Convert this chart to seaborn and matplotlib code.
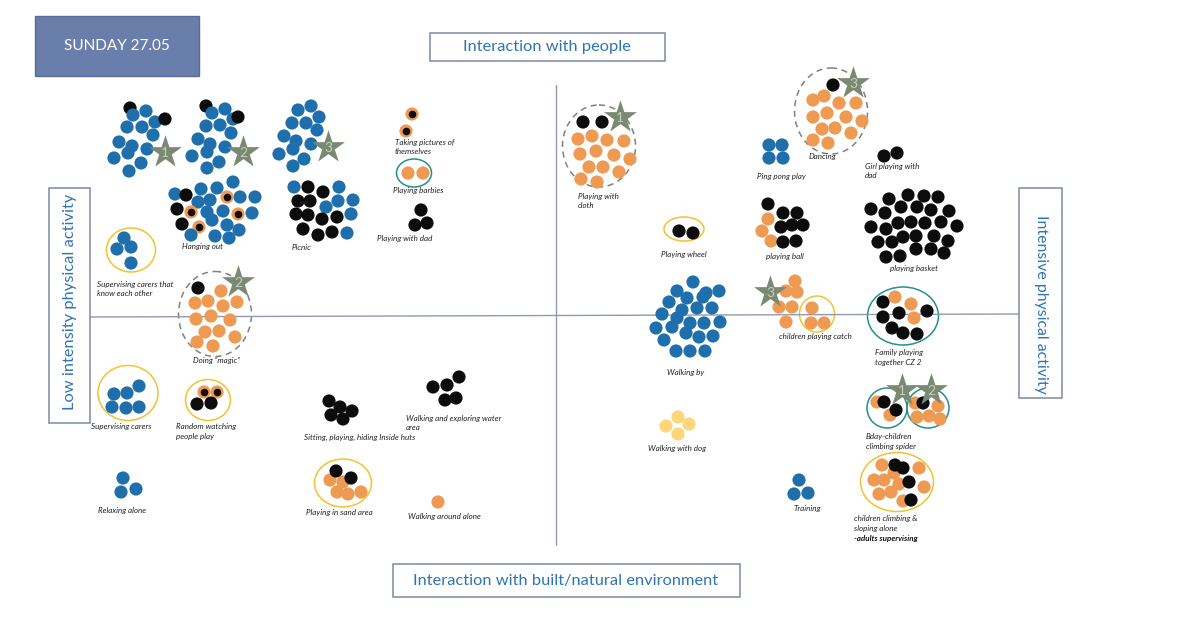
import matplotlib
matplotlib.use("Agg")
import matplotlib.pyplot as plt
from matplotlib.patches import Ellipse, Rectangle
import seaborn as sns
import pandas as pd

sns.set_theme(style="white")
plt.rcParams['font.family'] = ['Lato', 'DejaVu Sans']

# ---- data: people observed (x, y on the sketch, kind) ----
# kind: b = blue, o = orange, k = black, r = orange ring w/ black, y = yellow
cluster_1 = [(130, 108, 'k'), (133, 115, 'b'), (146, 111, 'b'), (155, 122, 'b'), (165, 119, 'k'),
             (127, 127, 'b'), (142, 127, 'b'), (153, 135, 'b'), (119, 142, 'b'), (132, 146, 'b'),
             (147, 149, 'b'), (128, 153, 'b'), (114, 158, 'b'), (141, 163, 'b'), (129, 171, 'b')]
cluster_2 = [(206, 106, 'k'), (212, 113, 'b'), (225, 109, 'b'), (233, 119, 'b'), (238, 117, 'k'),
             (206, 126, 'b'), (220, 125, 'b'), (231, 133, 'b'), (198, 139, 'b'), (210, 144, 'b'),
             (225, 147, 'b'), (207, 152, 'b'), (192, 156, 'b'), (219, 162, 'b'), (207, 168, 'b')]
cluster_3 = [(298, 110, 'b'), (311, 106, 'b'), (319, 117, 'b'), (292, 123, 'b'), (306, 123, 'b'),
             (317, 130, 'b'), (284, 136, 'b'), (296, 141, 'b'), (311, 144, 'b'), (293, 149, 'b'),
             (279, 154, 'b'), (304, 159, 'b'), (293, 166, 'b')]
hanging_out = [(175, 194, 'b'), (186, 195, 'k'), (201, 189, 'b'), (217, 188, 'b'), (233, 182, 'b'),
               (255, 197, 'b'), (240, 197, 'b'), (227, 197, 'r'), (198, 202, 'b'), (210, 200, 'b'),
               (177, 209, 'k'), (191, 212, 'r'), (207, 212, 'b'), (223, 211, 'b'), (238, 214, 'r'),
               (252, 213, 'b'), (182, 224, 'k'), (199, 227, 'r'), (212, 220, 'b'), (227, 225, 'b'),
               (239, 230, 'b'), (191, 235, 'b'), (215, 236, 'b'), (229, 238, 'b')]
picnic = [(294, 187, 'b'), (308, 187, 'k'), (323, 192, 'k'), (339, 187, 'b'), (298, 201, 'k'),
          (310, 201, 'k'), (338, 201, 'b'), (353, 200, 'b'), (326, 207, 'b'), (296, 214, 'k'),
          (308, 215, 'k'), (322, 219, 'k'), (337, 217, 'k'), (351, 214, 'b'), (303, 229, 'k'),
          (318, 235, 'k'), (332, 232, 'k'), (347, 233, 'b')]
carers_know = [(124, 238, 'b'), (117, 249, 'b'), (131, 247, 'b'), (131, 263, 'b')]
doing_magic = [(198, 288, 'k'), (221, 291, 'o'), (195, 303, 'o'), (208, 301, 'o'), (223, 306, 'o'),
               (237, 302, 'o'), (196, 319, 'o'), (211, 316, 'o'), (230, 320, 'o'), (205, 332, 'o'),
               (219, 331, 'o'), (197, 342, 'o'), (213, 346, 'o'), (235, 337, 'o')]
carers = [(114, 394, 'b'), (127, 393, 'b'), (139, 386, 'b'), (112, 407, 'b'), (126, 408, 'b'),
          (139, 407, 'b')]
watching = [(204, 392, 'r'), (217, 392, 'r'), (197, 404, 'k'), (211, 403, 'k')]
relaxing = [(123, 478, 'b'), (121, 492, 'b'), (136, 489, 'b')]
huts = [(329, 401, 'k'), (340, 407, 'k'), (352, 411, 'k'), (331, 415, 'k'), (343, 419, 'k')]
water = [(433, 387, 'k'), (447, 385, 'k'), (459, 377, 'k'), (445, 400, 'k'), (456, 398, 'k')]
sand = [(330, 480, 'o'), (343, 482, 'o'), (336, 471, 'k'), (351, 478, 'k'), (337, 492, 'o'),
        (348, 494, 'o'), (361, 492, 'o')]
walk_alone = [(438, 502, 'o')]
pictures = [(412, 114, 'r'), (406, 131, 'r')]
barbies = [(408, 173, 'o'), (423, 173, 'o')]
with_dad = [(421, 210, 'k'), (415, 225, 'k'), (427, 223, 'k')]
cloth = [(583, 122, 'k'), (602, 122, 'k'), (578, 139, 'o'), (592, 136, 'o'), (607, 140, 'o'),
         (624, 141, 'o'), (580, 154, 'o'), (596, 151, 'o'), (614, 155, 'o'), (630, 159, 'o'),
         (589, 167, 'o'), (603, 167, 'o'), (619, 172, 'o'), (581, 179, 'o'), (597, 182, 'o')]
dancing = [(833, 85, 'k'), (813, 100, 'o'), (824, 96, 'o'), (839, 103, 'o'), (856, 103, 'o'),
           (813, 117, 'o'), (827, 113, 'o'), (846, 117, 'o'), (862, 121, 'o'), (822, 129, 'o'),
           (835, 128, 'o'), (851, 133, 'o'), (813, 140, 'o'), (828, 143, 'o')]
ping_pong = [(769, 145, 'b'), (782, 145, 'b'), (769, 158, 'b'), (783, 158, 'b')]
wheel = [(679, 231, 'k'), (693, 233, 'k')]
ball = [(768, 204, 'k'), (783, 213, 'k'), (797, 213, 'k'), (768, 219, 'o'), (762, 231, 'o'),
        (781, 227, 'k'), (792, 225, 'k'), (803, 225, 'k'), (771, 241, 'o'), (783, 242, 'k'),
        (796, 241, 'k')]
walking_by = [(693, 282, 'b'), (677, 291, 'b'), (706, 293, 'b'), (719, 291, 'b'), (687, 298, 'b'),
              (703, 297, 'b'), (669, 302, 'b'), (682, 310, 'b'), (697, 308, 'b'), (712, 308, 'b'),
              (662, 314, 'b'), (677, 318, 'b'), (690, 323, 'b'), (704, 323, 'b'), (720, 322, 'b'),
              (656, 328, 'b'), (672, 327, 'b'), (686, 333, 'b'), (699, 337, 'b'), (713, 336, 'b'),
              (664, 340, 'b'), (676, 351, 'b'), (690, 351, 'b'), (705, 351, 'b')]
catch = [(795, 281, 'o'), (786, 291, 'o'), (797, 292, 'o'), (779, 307, 'o'), (792, 307, 'o'),
         (786, 322, 'o'), (812, 308, 'o'), (811, 323, 'o'), (824, 323, 'o')]
girl_dad = [(884, 156, 'k'), (897, 153, 'k')]
basket = [(889, 199, 'k'), (908, 195, 'k'), (924, 196, 'k'), (938, 197, 'k'), (871, 209, 'k'),
          (901, 207, 'k'), (917, 207, 'k'), (931, 210, 'k'), (949, 211, 'k'), (885, 213, 'k'),
          (871, 227, 'k'), (898, 223, 'k'), (911, 222, 'k'), (925, 223, 'k'), (941, 222, 'k'),
          (957, 226, 'k'), (886, 229, 'k'), (878, 242, 'k'), (892, 242, 'k'), (903, 237, 'k'),
          (916, 236, 'k'), (934, 236, 'k'), (948, 241, 'k'), (886, 257, 'k'), (900, 256, 'k'),
          (916, 249, 'k'), (931, 249, 'k'), (944, 253, 'k')]
family = [(883, 302, 'k'), (895, 297, 'o'), (911, 304, 'o'), (927, 311, 'k'), (883, 317, 'k'),
          (899, 313, 'k'), (914, 318, 'o'), (892, 328, 'k'), (903, 333, 'k'), (917, 334, 'k')]
spider = [(877, 402, 'o'), (884, 402, 'k'), (890, 415, 'o'), (896, 410, 'k'), (915, 403, 'o'),
          (923, 403, 'k'), (938, 406, 'o'), (917, 417, 'o'), (929, 416, 'o'), (940, 419, 'o')]
climbing = [(882, 465, 'o'), (919, 468, 'o'), (874, 480, 'o'), (884, 480, 'o'), (894, 473, 'o'),
            (899, 484, 'o'), (924, 487, 'o'), (879, 494, 'o'), (891, 492, 'o'), (903, 501, 'o'),
            (895, 465, 'k'), (903, 468, 'k'), (909, 482, 'k'), (911, 500, 'k')]
training = [(799, 480, 'b'), (794, 494, 'b'), (808, 493, 'b')]
dog = [(678, 417, 'y'), (666, 426, 'y'), (689, 424, 'y'), (678, 434, 'y')]

# group outlines: (cx, cy, width, height, style)
outlines = [(131, 250, 49, 44, 'yellow'), (215, 314, 73, 85, 'dashed'),
            (128, 393, 60, 55, 'yellow'), (208, 400, 45, 41, 'yellow'),
            (343, 483, 57, 48, 'yellow'), (414, 173, 35, 28, 'teal'),
            (599, 146, 73, 82, 'dashed'), (831, 111, 73, 86, 'dashed'),
            (684, 229, 40, 24, 'yellow'), (817, 314, 35, 36, 'yellow'),
            (903, 316, 71, 58, 'teal'), (887, 408, 40, 40, 'teal'),
            (928, 408, 42, 40, 'teal'), (897, 482, 73, 59, 'yellow')]

stars = [(165, 152, '1'), (243, 152, '2'), (328, 147, '3'), (238, 282, '2'), (620, 117, '1'),
         (853, 83, '3'), (770, 292, '3'), (902, 390, '1'), (931, 390, '2')]

# activity labels: (left x, centre y, text)
labels = [(182, 247, 'Hanging out'), (292, 248, 'Picnic'),
          (97, 289, 'Supervising carers that\nknow each other'),
          (395, 147, 'Taking pictures of\nthemselves'), (393, 190, 'Playing barbies'),
          (377, 238, 'Playing with dad'), (193, 360, 'Doing \u201cmagic\u201d'),
          (91, 426, 'Supervising carers'), (176, 432, 'Random watching\npeople play'),
          (98, 510, 'Relaxing alone'), (304, 437, 'Sitting, playing, hiding Inside huts'),
          (406, 423, 'Walking and exploring water\narea'), (306, 512, 'Playing in sand area'),
          (408, 516, 'Walking around alone'), (578, 201, 'Playing with\ncloth'),
          (809, 157, 'Dancing'), (757, 177, 'Ping pong play'), (661, 254, 'Playing wheel'),
          (766, 256, 'playing ball'), (779, 337, 'children playing catch'),
          (865, 171, 'Girl playing with\ndad'), (890, 268, 'playing basket'),
          (875, 357, 'Family playing\ntogether CZ 2'), (667, 372, 'Walking by'),
          (648, 448, 'Walking with dog'), (794, 508, 'Training'),
          (866, 441, 'Bday-children\nclimbing spider'),
          (854, 523, 'children climbing &\nsloping alone')]

palette = {'b': '#1f6fad', 'o': '#ee9a52', 'k': '#0c0c0c', 'r': '#ee9a52', 'y': '#fdd679'}
outline_style = {'yellow': dict(edgecolor='#f2c230', linestyle='-'),
                 'teal': dict(edgecolor='#24908c', linestyle='-'),
                 'dashed': dict(edgecolor='#808080', linestyle=(0, (4, 3)))}

groups = [cluster_1, cluster_2, cluster_3, hanging_out, picnic, carers_know, doing_magic, carers,
          watching, relaxing, huts, water, sand, walk_alone, pictures, barbies, with_dad, cloth,
          dancing, ping_pong, wheel, ball, walking_by, catch, girl_dad, basket, family, spider,
          climbing, training, dog]
df = pd.DataFrame([p for g in groups for p in g], columns=['x', 'y', 'kind'])

fig = plt.figure(figsize=(12, 6.19), dpi=100)
ax = fig.add_axes([0, 0, 1, 1])
ax.set_xlim(0, 1200)
ax.set_ylim(619, 0)
ax.axis('off')

# axes of the map
ax.plot([556, 556], [85, 545], color='#8f9bb3', lw=1)
ax.plot([90, 1022], [317, 314], color='#8f9bb3', lw=1)

for cx, cy, w, h, st in outlines:
    ax.add_patch(Ellipse((cx, cy), w, h, facecolor='none', lw=1.1, zorder=1, **outline_style[st]))

sns.scatterplot(data=df, x='x', y='y', hue='kind', palette=palette, s=90, linewidth=0,
                legend=False, ax=ax, zorder=3)
rings = df[df['kind'] == 'r']
sns.scatterplot(data=rings, x='x', y='y', color='#0c0c0c', s=30, linewidth=0,
                legend=False, ax=ax, zorder=4)

for sx, sy, num in stars:
    ax.scatter([sx], [sy], marker='*', s=620, color='#7a8a72', linewidths=0, zorder=5)
    ax.text(sx, sy + 1, num, ha='center', va='center', fontsize=10, color='#c6ccbf', zorder=6)

for lx, ly, txt in labels:
    ax.text(lx, ly, txt, ha='left', va='center', fontsize=5.8, style='italic',
            color='#222222', linespacing=1.5, zorder=6)
ax.text(854, 539, '-adults supervising', ha='left', va='center', fontsize=5.8,
        style='italic', weight='bold', color='#111111', zorder=6)

# header and axis boxes
ax.add_patch(Rectangle((35, 16), 164, 60, facecolor='#6a7eab', edgecolor='#5a6c96', lw=1))
ax.text(117, 46, 'SUNDAY 27.05', ha='center', va='center', color='white', fontsize=11)

box_edge = '#7c8aa5'
text_blue = '#2e75b6'
ax.add_patch(Rectangle((430, 33), 235, 28, facecolor='white', edgecolor=box_edge, lw=1.1))
ax.text(547, 47.5, 'Interaction with people', ha='center', va='center', color=text_blue, fontsize=11.8)
ax.add_patch(Rectangle((393, 564), 347, 33, facecolor='white', edgecolor=box_edge, lw=1.1))
ax.text(566, 580.5, 'Interaction with built/natural environment', ha='center', va='center',
        color=text_blue, fontsize=11.8)
ax.add_patch(Rectangle((49, 188), 41, 235, facecolor='white', edgecolor=box_edge, lw=1.1, zorder=2))
ax.text(70, 302, 'Low intensity physical activity', ha='center', va='center', rotation=90,
        color=text_blue, fontsize=11.8, zorder=3)
ax.add_patch(Rectangle((1019, 188), 43, 210, facecolor='white', edgecolor=box_edge, lw=1.1, zorder=2))
ax.text(1041, 304, 'Intensive physical activity', ha='center', va='center', rotation=-90,
        color=text_blue, fontsize=11.4, zorder=3)

fig.savefig('out.png', dpi=100)
